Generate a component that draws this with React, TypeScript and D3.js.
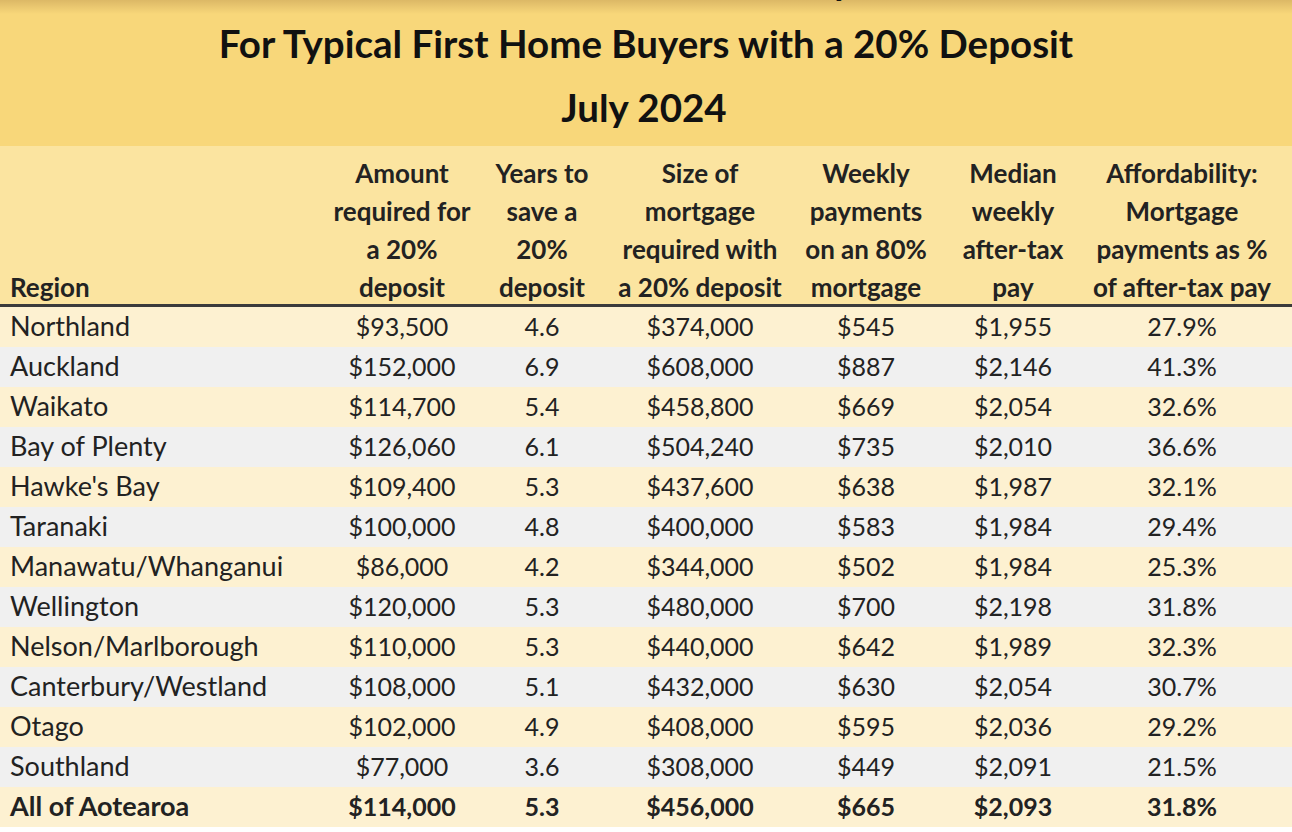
import React from "react";
import * as d3 from "d3";

const titleTop = "Home Loan Affordability";
const titleMain = "For Typical First Home Buyers with a 20% Deposit";
const titleSub = "July 2024";

const regions = [
  "Northland", "Auckland", "Waikato", "Bay of Plenty", "Hawke's Bay", "Taranaki",
  "Manawatu/Whanganui", "Wellington", "Nelson/Marlborough", "Canterbury/Westland",
  "Otago", "Southland", "All of Aotearoa",
];
const depositAmount = [93500, 152000, 114700, 126060, 109400, 100000, 86000, 120000, 110000, 108000, 102000, 77000, 114000];
const yearsToSave = [4.6, 6.9, 5.4, 6.1, 5.3, 4.8, 4.2, 5.3, 5.3, 5.1, 4.9, 3.6, 5.3];
const mortgageSize = [374000, 608000, 458800, 504240, 437600, 400000, 344000, 480000, 440000, 432000, 408000, 308000, 456000];
const weeklyPayments = [545, 887, 669, 735, 638, 583, 502, 700, 642, 630, 595, 449, 665];
const medianPay = [1955, 2146, 2054, 2010, 1987, 1984, 1984, 2198, 1989, 2054, 2036, 2091, 2093];
const affordability = [27.9, 41.3, 32.6, 36.6, 32.1, 29.4, 25.3, 31.8, 32.3, 30.7, 29.2, 21.5, 31.8];

const headers: string[][] = [
  ["Region"],
  ["Amount", "required for", "a 20%", "deposit"],
  ["Years to", "save a", "20%", "deposit"],
  ["Size of", "mortgage", "required with", "a 20% deposit"],
  ["Weekly", "payments", "on an 80%", "mortgage"],
  ["Median", "weekly", "after-tax", "pay"],
  ["Affordability:", "Mortgage", "payments as %", "of after-tax pay"],
];

const W = 1292;
const H = 832;
const FONT = "Lato, 'Open Sans', sans-serif";

const money = d3.format("$,.0f");
const one = d3.format(".1f");

export default function App() {
  const columns = [
    { values: regions.map((r) => r), anchor: "start", size: 27 },
    { values: depositAmount.map(money), anchor: "middle", size: 25 },
    { values: yearsToSave.map(one), anchor: "middle", size: 25 },
    { values: mortgageSize.map(money), anchor: "middle", size: 25 },
    { values: weeklyPayments.map(money), anchor: "middle", size: 25 },
    { values: medianPay.map(money), anchor: "middle", size: 25 },
    { values: affordability.map((v) => one(v) + "%"), anchor: "middle", size: 25 },
  ];
  const colX = [10, 402, 542, 700, 866, 1013, 1182];

  const y = d3.scaleBand<number>().domain(d3.range(regions.length)).range([307, 307 + 40 * regions.length]);
  const headerY = d3.scaleLinear().domain([0, 3]).range([174, 288]);

  return (
    <svg width={W} height={H} style={{ position: "absolute", left: 0, top: 0, display: "block" }}>
      <defs>
        <linearGradient id="topg" x1="0" y1="0" x2="0" y2="1">
          <stop offset="0" stopColor="#dcb866" />
          <stop offset="1" stopColor="#f8d77a" />
        </linearGradient>
      </defs>
      <rect x={0} y={0} width={W} height={H} fill="#ffffff" />
      <rect x={0} y={0} width={W} height={146} fill="#f8d77a" />
      <rect x={0} y={0} width={W} height={14} fill="url(#topg)" />
      <rect x={0} y={146} width={W} height={160} fill="#fbe4a0" />
      <text x={852} y={-5} textAnchor="end" fontFamily={FONT} fontWeight={700} fontSize={38} fill="#111">{titleTop}</text>
      <text x={646} y={58} textAnchor="middle" fontFamily={FONT} fontWeight={700} fontSize={38.5} fill="#111">{titleMain}</text>
      <text x={644} y={122} textAnchor="middle" fontFamily={FONT} fontWeight={700} fontSize={38.5} fill="#111">{titleSub}</text>

      {headers.map((lines, ci) => {
        const offset = 4 - lines.length;
        return lines.map((ln, li) => (
          <text key={`h${ci}-${li}`} x={colX[ci]} y={headerY(li + offset)} dy="0.35em"
            textAnchor={columns[ci].anchor as any} fontFamily={FONT} fontWeight={700} fontSize={26} fill="#222">{ln}</text>
        ));
      })}

      {regions.map((_, ri) => (
        <rect key={`r${ri}`} x={0} y={y(ri)} width={W} height={y.bandwidth()} fill={ri % 2 === 0 ? "#fdf1d1" : "#f0f0f0"} />
      ))}
      <rect x={0} y={304} width={W} height={3} fill="#3b3b3b" />

      {regions.map((_, ri) =>
        columns.map((c, ci) => (
          <text key={`c${ri}-${ci}`} x={colX[ci]} y={(y(ri) as number) + y.bandwidth() / 2} dy="0.35em"
            textAnchor={c.anchor as any} fontFamily={FONT} fontWeight={ri === regions.length - 1 ? 700 : 400}
            fontSize={c.size} fill="#222">{c.values[ri]}</text>
        ))
      )}
    </svg>
  );
}
